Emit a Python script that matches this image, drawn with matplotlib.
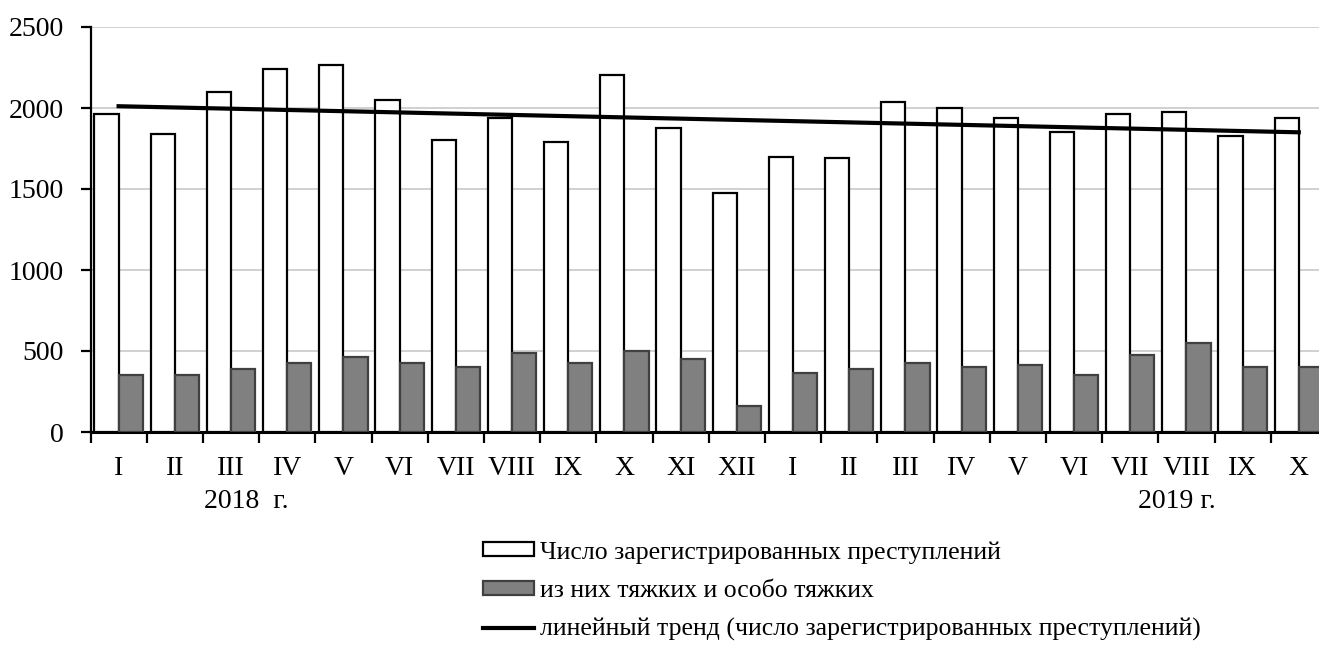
import numpy as np
import matplotlib
matplotlib.use("Agg")
import matplotlib.pyplot as plt
from matplotlib.patches import Patch
from matplotlib.lines import Line2D

months = ["I", "II", "III", "IV", "V", "VI", "VII", "VIII", "IX", "X", "XI", "XII",
          "I", "II", "III", "IV", "V", "VI", "VII", "VIII", "IX", "X"]
registered = [1965, 1840, 2100, 2240, 2265, 2050, 1800, 1940, 1790, 2205, 1875, 1475,
              1700, 1690, 2040, 2000, 1940, 1850, 1965, 1975, 1825, 1940]
grave = [354, 354, 389, 427, 464, 427, 402, 490, 427, 502, 452, 163,
         366, 389, 427, 402, 416, 354, 477, 552, 402, 402]
year_labels = ["2018  г.", "2019 г."]
legend_labels = ["Число зарегистрированных преступлений",
                 "из них тяжких и особо тяжких",
                 "линейный тренд (число зарегистрированных преступлений)"]

plt.rcParams['font.family'] = ['Liberation Serif', 'DejaVu Serif']
FS = 20

W, H = 1319, 652
fig = plt.figure(figsize=(W / 100, H / 100), dpi=100)
left_px, cat_px = 90.5, 56.2
ax = fig.add_axes([left_px / W, 1 - 432 / H, cat_px * len(months) / W, (432 - 27) / H])

x = np.arange(len(months))
bw = 0.43
ax.bar(x - bw / 2, registered, width=bw, color="white", edgecolor="black", linewidth=1.6, zorder=3)
ax.bar(x + bw / 2, grave, width=bw, color="#808080", edgecolor="#404040", linewidth=1.6, zorder=3)

coef = np.polyfit(x, registered, 1)
ax.plot(x, np.polyval(coef, x), color="black", linewidth=3, zorder=4)

ax.set_xlim(-0.5, len(months) - 0.5)
ax.set_ylim(0, 2500)
ax.set_yticks(np.arange(0, 2501, 500))
ax.yaxis.grid(True, color="#c8c8c8", linewidth=1.2, zorder=0)
ax.set_axisbelow(True)

ax.set_xticks(x)
ax.set_xticklabels(months, fontsize=FS)
ax.set_xticks(np.arange(-0.5, len(months) - 0.5, 1), minor=True)
ax.tick_params(axis="x", which="major", length=0, pad=17)
ax.tick_params(axis="x", which="minor", length=8, width=1.6, direction="out")
ax.tick_params(axis="y", labelsize=FS, length=7, width=1.6, direction="out", pad=12)

for s in ["top", "right"]:
    ax.spines[s].set_visible(False)
ax.spines["left"].set_linewidth(1.6)
ax.spines["bottom"].set_linewidth(2.2)

fig.text(246 / W, 1 - 502 / H, year_labels[0], fontsize=FS, ha="center", va="center")
fig.text(1177 / W, 1 - 502 / H, year_labels[1], fontsize=FS, ha="center", va="center")

handles = [Patch(facecolor="white", edgecolor="black", linewidth=1.6),
           Patch(facecolor="#808080", edgecolor="#404040", linewidth=1.6),
           Line2D([0], [0], color="black", linewidth=3)]
fig.legend(handles, legend_labels, loc="upper left",
           bbox_to_anchor=(483 / W, 1 - 541 / H), frameon=False, fontsize=18.5,
           handlelength=2.0, handleheight=0.47, handletextpad=0.22, labelspacing=0.64,
           borderpad=0, borderaxespad=0)

fig.savefig("out.png", dpi=100)
